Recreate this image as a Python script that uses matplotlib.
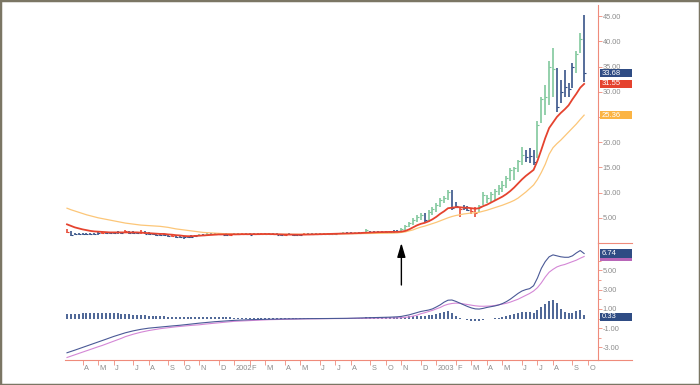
import numpy as np
import pandas as pd
import matplotlib
matplotlib.use("Agg")
import matplotlib.pyplot as plt
import matplotlib.dates as mdates
from matplotlib.markers import TICKRIGHT
from matplotlib.patches import Rectangle
from matplotlib.lines import Line2D

plt.rcParams['font.family'] = ['Liberation Sans', 'DejaVu Sans']

# ---------------- data (weekly bars) ----------------
start_date = "2001-03-09"

week_high = [
    2.8, 2.45, 2.0, 1.95, 1.95, 2.0, 1.9, 2.0, 2.1, 2.2,
    2.25, 2.2, 2.2, 2.3, 2.2, 2.6, 2.4, 2.3, 2.2, 2.5,
    2.3, 2.1, 2.0, 1.95, 1.9, 1.8, 1.75, 1.7, 1.6, 1.5,
    1.45, 1.45, 1.5, 1.6, 1.7, 1.8, 1.9, 2.0, 2.0, 1.95,
    1.9, 1.9, 1.85, 1.9, 1.95, 2.0, 1.95, 1.9, 1.9, 2.0,
    2.05, 2.0, 1.95, 1.95, 1.9, 1.85, 1.85, 1.9, 1.85, 1.8,
    1.85, 1.9, 1.9, 1.95, 1.95, 1.9, 1.9, 1.95, 2.0, 2.0,
    2.05, 2.1, 2.1, 2.15, 2.2, 2.2, 2.25, 2.8, 2.3, 2.35,
    2.4, 2.4, 2.4, 2.4, 2.5, 2.6, 3.0, 3.6, 4.2, 5.0,
    5.6, 6.0, 6.0, 6.5, 7.2, 7.9, 8.9, 9.3, 10.5, 10.5,
    8.2, 7.2, 7.5, 7.3, 7.0, 7.2, 7.5, 10.2, 9.5, 10.2,
    10.8, 11.5, 12.2, 13.2, 14.9, 15.1, 16.5, 19.1, 18.5, 18.8,
    18.5, 24.1, 29.0, 31.3, 36.0, 38.6, 34.7, 32.3, 34.3, 31.7,
    35.7, 38.0, 41.6, 45.2,
]
week_low = [
    2.0, 1.45, 1.5, 1.5, 1.55, 1.6, 1.5, 1.55, 1.6, 1.7,
    1.8, 1.7, 1.75, 1.8, 1.75, 1.9, 1.8, 1.7, 1.7, 1.8,
    1.7, 1.5, 1.5, 1.45, 1.45, 1.35, 1.25, 1.2, 1.05, 0.9,
    0.85, 0.9, 1.0, 1.1, 1.3, 1.4, 1.5, 1.6, 1.55, 1.5,
    1.5, 1.45, 1.45, 1.5, 1.55, 1.6, 1.55, 1.5, 1.5, 1.55,
    1.6, 1.6, 1.55, 1.5, 1.5, 1.45, 1.45, 1.5, 1.45, 1.4,
    1.45, 1.5, 1.55, 1.55, 1.6, 1.55, 1.5, 1.55, 1.6, 1.65,
    1.7, 1.7, 1.75, 1.8, 1.8, 1.85, 1.85, 2.2, 1.9, 1.95,
    2.0, 2.0, 1.95, 2.0, 2.0, 2.1, 2.2, 2.6, 3.2, 3.6,
    4.2, 4.6, 4.2, 4.2, 5.6, 6.2, 7.2, 7.9, 8.5, 6.5,
    6.9, 5.2, 6.5, 6.3, 5.8, 5.2, 6.2, 7.5, 7.9, 8.2,
    8.5, 9.5, 10.2, 10.9, 12.2, 12.5, 14.1, 15.5, 16.1, 15.8,
    15.5, 16.8, 23.8, 25.4, 27.4, 29.0, 26.0, 27.8, 29.0, 29.0,
    30.7, 33.7, 37.6, 32.0,
]
week_close = [
    2.2, 1.6, 1.8, 1.7, 1.8, 1.75, 1.7, 1.8, 1.9, 2.0,
    2.0, 1.9, 2.0, 2.1, 1.9, 2.3, 2.0, 1.9, 1.9, 2.1,
    1.8, 1.7, 1.7, 1.6, 1.6, 1.5, 1.4, 1.35, 1.2, 1.1,
    1.1, 1.15, 1.2, 1.35, 1.5, 1.6, 1.7, 1.8, 1.75, 1.7,
    1.65, 1.6, 1.65, 1.7, 1.75, 1.8, 1.7, 1.65, 1.7, 1.8,
    1.85, 1.8, 1.75, 1.7, 1.65, 1.6, 1.6, 1.7, 1.6, 1.55,
    1.65, 1.7, 1.75, 1.8, 1.8, 1.75, 1.7, 1.8, 1.85, 1.85,
    1.9, 1.95, 1.95, 2.0, 2.05, 2.05, 2.1, 2.6, 2.1, 2.15,
    2.2, 2.2, 2.2, 2.2, 2.3, 2.4, 2.8, 3.4, 4.0, 4.6,
    5.2, 5.6, 4.5, 6.2, 6.8, 7.6, 8.5, 9.0, 10.2, 7.0,
    7.4, 6.8, 6.9, 6.6, 6.3, 6.0, 7.3, 9.5, 9.0, 9.8,
    10.3, 11.0, 11.5, 12.8, 14.5, 14.8, 16.2, 17.5, 17.0, 17.3,
    16.0, 23.5, 28.5, 29.0, 35.0, 34.5, 27.0, 30.0, 31.0, 30.5,
    35.0, 37.5, 40.5, 33.68,
]
# bar colour class per week: g = up, b = down, r = other
bar_class = list(
    "rbbbbbbbbr" "bbbbbrbbbr" "bbbbbbbrbb" "bbbbgbgbbb" "bbrbbrbbbb"
    "rbbbbbrbbb" "brbbbbbbbb" "bgbbgbbgbb" "bbbbbbgggg" "ggbggggggb"
    "brbbrrgggg" "ggggggggbb" "bggggg" "bbbb" "bggb"
)
ma_fast = [
    3.7, 3.4, 3.1, 2.9, 2.7, 2.55, 2.4, 2.3, 2.25, 2.2,
    2.15, 2.1, 2.1, 2.1, 2.1, 2.1, 2.1, 2.1, 2.1, 2.05,
    2.0, 1.95, 1.9, 1.85, 1.8, 1.8, 1.7, 1.65, 1.55, 1.5,
    1.4, 1.35, 1.35, 1.4, 1.45, 1.5, 1.55, 1.6, 1.65, 1.7,
    1.7, 1.7, 1.7, 1.7, 1.72, 1.75, 1.75, 1.75, 1.75, 1.75,
    1.78, 1.78, 1.78, 1.75, 1.72, 1.7, 1.68, 1.67, 1.66, 1.65,
    1.65, 1.66, 1.68, 1.7, 1.72, 1.74, 1.75, 1.76, 1.78, 1.8,
    1.82, 1.85, 1.88, 1.9, 1.93, 1.96, 2.0, 2.03, 2.08, 2.12,
    2.15, 2.17, 2.18, 2.2, 2.2, 2.2, 2.25, 2.4, 2.7, 3.1,
    3.5, 3.8, 4.0, 4.3, 4.7, 5.2, 5.8, 6.3, 6.9, 7.0,
    7.1, 7.1, 7.0, 7.0, 6.9, 6.8, 6.9, 7.3, 7.6, 8.0,
    8.4, 8.8, 9.2, 9.7, 10.3, 11.0, 11.8, 12.6, 13.3, 13.9,
    14.5, 16.3, 18.5, 20.8, 22.8, 23.9, 25.0, 25.8, 26.5, 27.3,
    28.5, 29.6, 30.8, 31.55,
]
ma_slow = [
    6.9, 6.6, 6.35, 6.1, 5.85, 5.6, 5.4, 5.2, 5.0, 4.85,
    4.7, 4.55, 4.4, 4.25, 4.1, 3.95, 3.85, 3.75, 3.65, 3.55,
    3.5, 3.45, 3.4, 3.35, 3.3, 3.2, 3.1, 2.95, 2.8, 2.7,
    2.6, 2.5, 2.4, 2.3, 2.2, 2.1, 2.05, 2.0, 1.95, 1.9,
    1.85, 1.82, 1.8, 1.78, 1.76, 1.75, 1.74, 1.73, 1.72, 1.72,
    1.72, 1.72, 1.72, 1.72, 1.72, 1.72, 1.72, 1.72, 1.72, 1.72,
    1.72, 1.72, 1.72, 1.73, 1.74, 1.75, 1.76, 1.77, 1.78, 1.79,
    1.8, 1.81, 1.82, 1.83, 1.84, 1.85, 1.86, 1.88, 1.9, 1.91,
    1.92, 1.93, 1.94, 1.95, 1.96, 2.0, 2.1, 2.2, 2.4, 2.6,
    2.9, 3.15, 3.35, 3.6, 3.85, 4.1, 4.4, 4.7, 5.0, 5.25,
    5.45, 5.6, 5.75, 5.85, 5.95, 6.0, 6.1, 6.3, 6.5, 6.75,
    7.0, 7.25, 7.5, 7.8, 8.1, 8.45, 8.9, 9.5, 10.1, 10.8,
    11.5, 12.6, 14.0, 15.6, 17.6, 18.9, 19.7, 20.4, 21.2, 22.0,
    22.8, 23.6, 24.5, 25.36,
]
macd_line = [
    -3.55, -3.42, -3.28, -3.14, -3.0, -2.86, -2.72, -2.58, -2.45, -2.3,
    -2.15, -2.0, -1.86, -1.73, -1.6, -1.48, -1.38, -1.28, -1.2, -1.12,
    -1.06, -1.0, -0.96, -0.92, -0.88, -0.84, -0.8, -0.77, -0.74, -0.7,
    -0.66, -0.62, -0.57, -0.52, -0.48, -0.44, -0.4, -0.36, -0.33, -0.3,
    -0.27, -0.24, -0.21, -0.19, -0.17, -0.15, -0.13, -0.12, -0.11, -0.1,
    -0.08, -0.07, -0.06, -0.06, -0.05, -0.05, -0.04, -0.04, -0.03, -0.03,
    -0.02, -0.02, -0.01, -0.01, 0.0, 0.0, 0.0, 0.0, 0.01, 0.01,
    0.01, 0.02, 0.02, 0.03, 0.03, 0.04, 0.05, 0.07, 0.08, 0.09,
    0.1, 0.11, 0.12, 0.14, 0.16, 0.18, 0.22, 0.3, 0.38, 0.5,
    0.62, 0.73, 0.8, 0.88, 1.0, 1.2, 1.42, 1.7, 1.9, 1.92,
    1.78, 1.6, 1.42, 1.25, 1.1, 1.0, 0.98, 1.05, 1.15, 1.22,
    1.3, 1.4, 1.55, 1.75, 2.0, 2.3, 2.6, 2.85, 3.0, 3.1,
    3.4, 4.2, 5.2, 5.9, 6.4, 6.6, 6.5, 6.4, 6.35, 6.35,
    6.5, 6.8, 7.05, 6.74,
]
signal_line = [
    -4.04, -3.9, -3.76, -3.62, -3.48, -3.34, -3.2, -3.06, -2.93, -2.8,
    -2.65, -2.5, -2.35, -2.2, -2.05, -1.88, -1.75, -1.63, -1.52, -1.42,
    -1.33, -1.25, -1.18, -1.11, -1.05, -1.0, -0.95, -0.9, -0.86, -0.82,
    -0.78, -0.74, -0.71, -0.68, -0.65, -0.6, -0.56, -0.52, -0.48, -0.44,
    -0.4, -0.36, -0.32, -0.29, -0.27, -0.25, -0.23, -0.21, -0.19, -0.17,
    -0.15, -0.13, -0.12, -0.11, -0.1, -0.09, -0.08, -0.07, -0.06, -0.05,
    -0.05, -0.04, -0.04, -0.03, -0.03, -0.02, -0.02, -0.01, -0.01, 0.0,
    0.0, 0.0, 0.01, 0.01, 0.01, 0.02, 0.02, 0.03, 0.03, 0.04,
    0.04, 0.05, 0.05, 0.06, 0.06, 0.07, 0.08, 0.12, 0.17, 0.25,
    0.35, 0.5, 0.6, 0.72, 0.85, 1.0, 1.15, 1.35, 1.48, 1.56,
    1.6, 1.58, 1.52, 1.45, 1.38, 1.32, 1.28, 1.27, 1.28, 1.3,
    1.35, 1.42, 1.5, 1.58, 1.7, 1.85, 2.0, 2.2, 2.4, 2.6,
    2.85, 3.2, 3.7, 4.3, 4.8, 5.1, 5.35, 5.5, 5.6, 5.75,
    5.9, 6.05, 6.25, 6.43,
]
macd_hist = [
    0.45, 0.47, 0.5, 0.52, 0.55, 0.57, 0.58, 0.6, 0.62, 0.62,
    0.6, 0.58, 0.56, 0.53, 0.5, 0.47, 0.44, 0.41, 0.38, 0.35,
    0.32, 0.3, 0.28, 0.26, 0.24, 0.22, 0.2, 0.18, 0.16, 0.15,
    0.14, 0.13, 0.12, 0.12, 0.12, 0.13, 0.14, 0.15, 0.15, 0.14,
    0.13, 0.12, 0.11, 0.1, 0.1, 0.1, 0.09, 0.09, 0.09, 0.09,
    0.08, 0.08, 0.08, 0.08, 0.08, 0.08, 0.08, 0.08, 0.08, 0.08,
    0.08, 0.08, 0.08, 0.08, 0.08, 0.08, 0.08, 0.08, 0.08, 0.08,
    0.08, 0.08, 0.08, 0.09, 0.09, 0.1, 0.1, 0.11, 0.12, 0.12,
    0.13, 0.14, 0.14, 0.15, 0.15, 0.16, 0.18, 0.2, 0.22, 0.25,
    0.28, 0.3, 0.3, 0.33, 0.38, 0.45, 0.55, 0.7, 0.8, 0.6,
    0.3, 0.05, -0.1, -0.2, -0.3, -0.3, -0.25, -0.2, -0.1, -0.05,
    0.05, 0.1, 0.15, 0.25, 0.35, 0.45, 0.55, 0.65, 0.7, 0.65,
    0.6, 0.9, 1.2, 1.5, 1.8, 1.9, 1.6, 0.95, 0.7, 0.6,
    0.6, 0.75, 0.9, 0.33,
]
price_ticks = [5, 10, 15, 20, 25, 30, 35, 40, 45]
macd_ticks = [-3, -1, 1, 3, 5]
macd_minor = [-2, 0, 2, 4, 6]
arrow_week = 86

# ---------------- styling ----------------
SALMON = "#ef8b7b"
GRAY = "#8c8c8c"
GREEN = "#7cc699"
NAVY = "#2f4c84"
RED = "#e5432f"
ORANGE = "#fcc678"
BOX_ORANGE = "#fbb444"
MACD_BLUE = "#4a5996"
PINK = "#d487d6"
FS = 5.3

W, H = 700, 385
n = len(week_close)
dates = pd.date_range(start_date, periods=n, freq="7D")
x = mdates.date2num(dates)
hi = np.array(week_high); lo = np.array(week_low); cl = np.array(week_close)

fig = plt.figure(figsize=(W / 100, H / 100), dpi=100)
fig.patch.set_facecolor("white")
ax1 = fig.add_axes([65 / W, 1 - 243 / H, 533 / W, 238 / H])
ax2 = fig.add_axes([65 / W, 1 - 360 / H, 533 / W, 117 / H], sharex=ax1)

# price bars
col_map = {"g": GREEN, "b": NAVY, "r": RED}
cls = np.array(bar_class)
for k, c in col_map.items():
    m = cls == k
    ax1.vlines(x[m], lo[m], hi[m], color=c, lw=1.15, zorder=2)
    ax1.plot(x[m], cl[m], ls="none", marker=TICKRIGHT, ms=1.6, mew=0.8,
             color=c, zorder=2)
ax1.plot(x, ma_slow, color=ORANGE, lw=0.9, zorder=3)
ax1.plot(x, ma_fast, color=RED, lw=1.3, zorder=4)

ax1.set_xlim(x[0] - 3.6, x[-1] + 25)
ax1.set_ylim(0, 47.2)

# MACD panel
ax2.vlines(x, 0, macd_hist, color=NAVY, lw=1.2, zorder=2)
ax2.plot(x, signal_line, color=PINK, lw=0.8, zorder=3)
ax2.plot(x, macd_line, color=MACD_BLUE, lw=0.8, zorder=4)
ax2.set_ylim(-4.3, 7.83)

for ax in (ax1, ax2):
    for s in ("top", "left", "bottom"):
        ax.spines[s].set_visible(False)
    ax.spines["right"].set_color(SALMON)
    ax.spines["right"].set_linewidth(0.8)
    ax.yaxis.tick_right()
    ax.tick_params(axis="y", which="major", direction="out", length=3,
                   width=0.6, color=SALMON, labelsize=FS, labelcolor=GRAY, pad=0.5)
    ax.tick_params(axis="y", which="minor", direction="out", length=2,
                   width=0.6, color=SALMON)
    ax.set_facecolor("none")
ax2.spines["bottom"].set_visible(True)
ax2.spines["bottom"].set_color(SALMON)
ax2.spines["bottom"].set_linewidth(0.8)

# value boxes shown at the right edge (last values)
price_boxes = [(week_close[-1], NAVY), (ma_fast[-1], RED), (ma_slow[-1], BOX_ORANGE)]
macd_boxes = [(signal_line[-1], "#b866b8", False), (macd_line[-1], NAVY, True),
              (macd_hist[-1], NAVY, True)]

# tick labels that sit right under a value box are hidden (as in the original)
def tick_labels(ticks, boxes, tol):
    out = []
    for t in ticks:
        covered = any(abs(t - b[0]) < tol for b in boxes)
        out.append("" if covered else f"{t:.2f}")
    return out

ax1.set_yticks(price_ticks)
ax1.set_yticklabels(tick_labels(price_ticks, price_boxes, 1.0))
ax2.set_yticks(macd_ticks)
ax2.set_yticklabels([f"{v:.2f}" for v in macd_ticks])
ax2.set_yticks(macd_minor, minor=True)
ax1.tick_params(axis="x", bottom=False, labelbottom=False)

# month ticks: first weekly bar of each month
ext_dates = pd.date_range(start_date, periods=n + 2, freq="7D")
tick_dates = [d for d in ext_dates if d.day <= 7]
tick_x = mdates.date2num(tick_dates)
ax2.set_xticks(tick_x)
ax2.set_xticklabels([])
ax2.tick_params(axis="x", direction="out", length=3.5, width=0.6, color=SALMON)
for d, tx in zip(tick_dates, tick_x):
    lbl = str(d.year) if d.month == 1 else d.strftime("%b")[0]
    ax2.annotate(lbl, xy=(tx, 0), xycoords=("data", "axes fraction"),
                 xytext=(1.0, -5.8), textcoords="offset points",
                 ha="left", va="center", fontsize=FS, color=GRAY,
                 annotation_clip=False)

# extension lines to the right of the axis
fig.add_artist(Line2D([598 / W, 632 / W], [1 - 243 / H] * 2, color=SALMON, lw=0.8))
fig.add_artist(Line2D([598 / W, 632 / W], [1 - 360 / H] * 2, color=SALMON, lw=0.8))

def value_box(ax, val, fc, show_text=True, dy=0.0, tc="white"):
    yfig = ax.transData.transform((x[0], val))[1] / fig.bbox.height - dy / H
    fig.add_artist(Rectangle((600 / W, yfig - 4.3 / H), 32 / W, 8.6 / H,
                             transform=fig.transFigure, facecolor=fc,
                             edgecolor="none"))
    if show_text:
        fig.text(602 / W, yfig, f"{val:.2f}", ha="left", va="center",
                 fontsize=FS + 0.2, color=tc)

for v, c in price_boxes:
    value_box(ax1, v, c)
value_box(ax2, macd_boxes[0][0], macd_boxes[0][1], show_text=False)
value_box(ax2, macd_boxes[1][0], macd_boxes[1][1])
value_box(ax2, macd_boxes[2][0], macd_boxes[2][1], dy=1.5)

# arrow marking the breakout week
ax2.annotate("", xy=(x[arrow_week], 1 - 243 / H),
             xycoords=("data", "figure fraction"),
             xytext=(x[arrow_week], 1 - 285 / H),
             textcoords=("data", "figure fraction"),
             arrowprops=dict(arrowstyle="-|>,head_length=0.85,head_width=0.25",
                             color="black", lw=1.0, shrinkA=0, shrinkB=0),
             annotation_clip=False)

# outer frame
fig.add_artist(Rectangle((0, 0), 1, 1, transform=fig.transFigure, fill=False,
                         edgecolor="#7b7664", lw=2.5))

fig.savefig("out.png", dpi=100)
